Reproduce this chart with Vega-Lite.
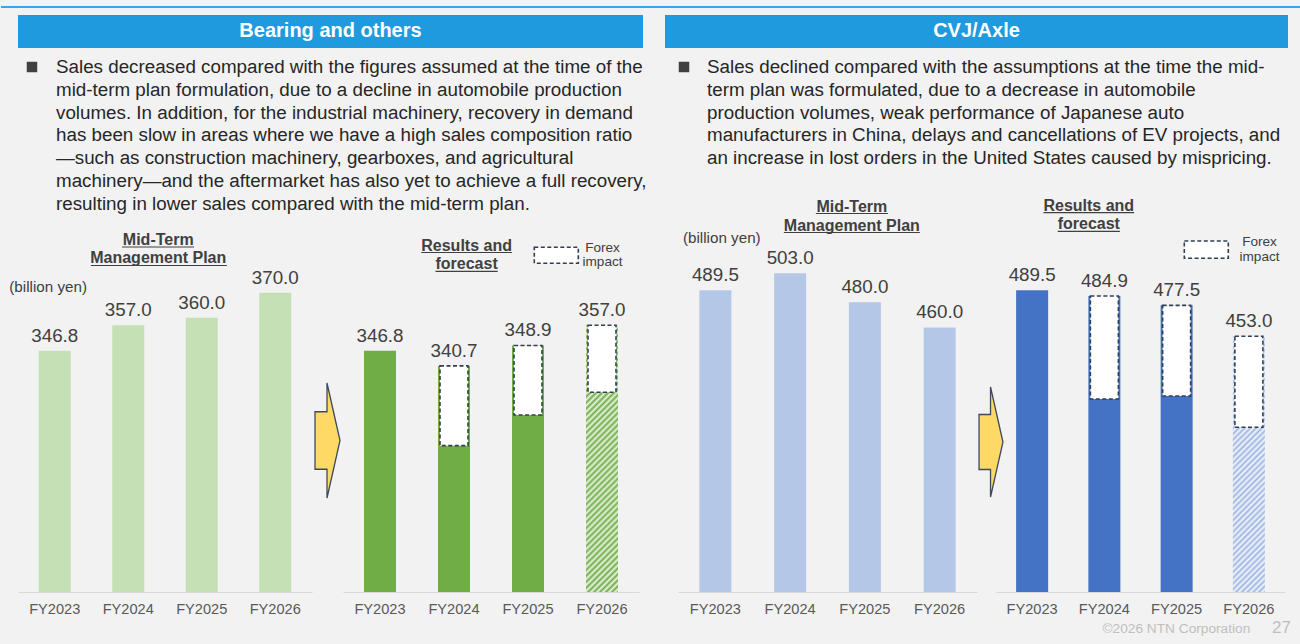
{
  "$schema": "https://vega.github.io/schema/vega-lite/v6.json",
  "background": "#f2f2f2",
  "padding": 0,
  "spacing": 0,
  "bounds": "flush",
  "config": {
    "font": "Liberation Sans",
    "view": {"stroke": null, "fill": "transparent"},
    "axisX": {"title": null, "ticks": false, "grid": false, "domainColor": "#d9d9d9", "domainWidth": 1, "labelFontSize": 14.6, "labelColor": "#595959", "labelPadding": 9, "labelAngle": 0, "labelFont": "Liberation Sans", "offset": -52}
  },
  "datasets": {
    "bearingPlan": [
      {"year": "FY2023", "value": 346.8},
      {"year": "FY2024", "value": 357.0},
      {"year": "FY2025", "value": 360.0},
      {"year": "FY2026", "value": 370.0}
    ],
    "bearingResults": [
      {"year": "FY2023", "value": 346.8, "exfx": null, "status": "actual"},
      {"year": "FY2024", "value": 340.7, "exfx": 308.7, "status": "actual"},
      {"year": "FY2025", "value": 348.9, "exfx": 321.0, "status": "actual"},
      {"year": "FY2026", "value": 357.0, "exfx": 330.1, "status": "forecast"}
    ],
    "cvjPlan": [
      {"year": "FY2023", "value": 489.5},
      {"year": "FY2024", "value": 503.0},
      {"year": "FY2025", "value": 480.0},
      {"year": "FY2026", "value": 460.0}
    ],
    "cvjResults": [
      {"year": "FY2023", "value": 489.5, "exfx": null, "status": "actual"},
      {"year": "FY2024", "value": 484.9, "exfx": 403.2, "status": "actual"},
      {"year": "FY2025", "value": 477.5, "exfx": 405.6, "status": "actual"},
      {"year": "FY2026", "value": 453.0, "exfx": 380.7, "status": "forecast"}
    ]
  },
  "hconcat": [
    {"width": 17, "height": 644, "data": {"values": [{}]}, "mark": "text", "encoding": {"text": {"value": ""}}},
    {
      "width": 294, "height": 644,
      "resolve": {"scale": {"x": "independent", "y": "independent"}},
      "layer": [
        {
          "resolve": {"scale": {"x": "independent"}},
          "layer": [
            {
              "data": {"name": "bearingPlan"},
              "encoding": {
                "x": {"field": "year", "type": "nominal", "sort": null, "scale": {"paddingInner": 0.5, "paddingOuter": 0.25}},
                "y": {"field": "value", "type": "quantitative", "scale": {"domain": [229.142, 487.465], "zero": false, "nice": false}, "axis": null}
              },
              "layer": [
                {"mark": {"type": "bar", "width": 32, "color": "#c5e0b4"}, "encoding": {"y2": {"datum": 250}}},
                {"mark": {"type": "text", "dy": -9, "baseline": "alphabetic", "fontSize": 18.8, "color": "#404040"}, "encoding": {"text": {"field": "value", "type": "quantitative", "format": ".1f"}}}
              ]
            },
            {
              "data": {"values": [{}]},
              "layer": [
                {"mark": {"type": "text", "text": "Mid-Term", "fontSize": 16, "fontWeight": "bold", "color": "#404040", "align": "center", "baseline": "alphabetic"},
                 "encoding": {"x": {"datum": 0.477, "type": "quantitative", "scale": {"domain": [0, 1]}, "axis": null}, "y": {"datum": 389.19, "type": "quantitative", "axis": null}}},
                {"mark": {"type": "text", "text": "Management Plan", "fontSize": 16, "fontWeight": "bold", "color": "#404040", "align": "center", "baseline": "alphabetic"},
                 "encoding": {"x": {"datum": 0.477, "type": "quantitative", "scale": {"domain": [0, 1]}, "axis": null}, "y": {"datum": 381.77, "type": "quantitative", "axis": null}}},
                {"mark": {"type": "rule", "color": "#404040", "strokeWidth": 1.2},
                 "encoding": {"x": {"datum": 0.3537, "type": "quantitative", "scale": {"domain": [0, 1]}, "axis": null}, "x2": {"datum": 0.5986}, "y": {"datum": 388.39, "type": "quantitative", "axis": null}}},
                {"mark": {"type": "rule", "color": "#404040", "strokeWidth": 1.2},
                 "encoding": {"x": {"datum": 0.2478, "type": "quantitative", "scale": {"domain": [0, 1]}, "axis": null}, "x2": {"datum": 0.7104}, "y": {"datum": 380.97, "type": "quantitative", "axis": null}}},
                {"mark": {"type": "text", "text": "(billion yen)", "fontSize": 15.2, "color": "#404040", "align": "left", "baseline": "alphabetic"},
                 "encoding": {"x": {"datum": -0.0296, "type": "quantitative", "scale": {"domain": [0, 1]}, "axis": null}, "y": {"datum": 370.14, "type": "quantitative", "axis": null}}}
              ]
            }
          ]
        },
        {
          "data": {"values": [{}]},
          "layer": [
            {"mark": {"type": "rule", "color": "#3ea3e3", "strokeWidth": 2},
             "encoding": {"x": {"datum": -0.0578, "type": "quantitative", "scale": {"domain": [0, 1]}, "axis": null}, "x2": {"datum": 4.3639}, "y": {"datum": 0.01087, "type": "quantitative", "scale": {"domain": [0, 1], "reverse": true}, "axis": null}}},
            {"mark": {"type": "rect", "color": "#1f9ade"},
             "encoding": {"x": {"datum": 0, "type": "quantitative", "scale": {"domain": [0, 1]}, "axis": null}, "x2": {"datum": 2.1259}, "y": {"datum": 0.02329, "type": "quantitative", "scale": {"domain": [0, 1], "reverse": true}, "axis": null}, "y2": {"datum": 0.07453}}},
            {"mark": {"type": "text", "text": "Bearing and others", "fontSize": 20, "fontWeight": "bold", "color": "#ffffff", "align": "center", "baseline": "middle"},
             "encoding": {"x": {"datum": 1.0629, "type": "quantitative", "scale": {"domain": [0, 1]}, "axis": null}, "y": {"datum": 0.04891, "type": "quantitative", "scale": {"domain": [0, 1], "reverse": true}, "axis": null}}},
            {"mark": {"type": "point", "shape": "square", "size": 110, "filled": true, "color": "#404040", "opacity": 1},
             "encoding": {"x": {"datum": 0.0476, "type": "quantitative", "scale": {"domain": [0, 1]}, "axis": null}, "y": {"datum": 0.10404, "type": "quantitative", "scale": {"domain": [0, 1], "reverse": true}, "axis": null}}},
            {"mark": {"type": "text", "align": "left", "baseline": "alphabetic", "fontSize": 18.8, "lineHeight": 22.67, "color": "#262626",
              "text": ["Sales decreased compared with the figures assumed at the time of the", "mid-term plan formulation, due to a decline in automobile production", "volumes. In addition, for the industrial machinery, recovery in demand", "has been slow in areas where we have a high sales composition ratio", "\u2014such as construction machinery, gearboxes, and agricultural", "machinery\u2014and the aftermarket has also yet to achieve a full recovery,", "resulting in lower sales compared with the mid-term plan."]},
             "encoding": {"x": {"datum": 0.12925, "type": "quantitative", "scale": {"domain": [0, 1]}, "axis": null}, "y": {"datum": 0.11413, "type": "quantitative", "scale": {"domain": [0, 1], "reverse": true}, "axis": null}}}
          ]
        }
      ]
    },
    {
      "width": 31, "height": 644,
      "data": {"values": [{}]},
      "mark": {"type": "point", "shape": "M-0.2174,-0.5L-0.0087,-0.5L-0.0087,-1L0.2174,0L-0.0087,1L-0.0087,0.5L-0.2174,0.5Z", "size": 13225, "filled": true, "fill": "#ffd966", "stroke": "#3b4a5f", "strokeWidth": 1.3, "opacity": 1},
      "encoding": {"x": {"datum": 0.5, "type": "quantitative", "scale": {"domain": [0, 1]}, "axis": null}, "y": {"datum": 0.68401, "type": "quantitative", "scale": {"domain": [0, 1], "reverse": true}, "axis": null}}
    },
    {
      "width": 296, "height": 644,
      "resolve": {"scale": {"x": "independent"}},
      "layer": [
        {
          "data": {"name": "bearingResults"},
          "encoding": {
            "x": {"field": "year", "type": "nominal", "sort": null, "scale": {"paddingInner": 0.5, "paddingOuter": 0.25}},
            "y": {"field": "value", "type": "quantitative", "scale": {"domain": [229.142, 487.465], "zero": false, "nice": false}, "axis": null}
          },
          "layer": [
            {"transform": [{"filter": "datum.status == 'actual'"}], "mark": {"type": "bar", "width": 32, "color": "#70ad47"}, "encoding": {"y2": {"datum": 250}}},
            {"transform": [{"filter": "datum.status == 'forecast'"}], "mark": {"type": "bar", "width": 32, "fill": {"gradient": "linear", "x1": 0, "y1": 0, "x2": 0.1325, "y2": 1.1041, "stops": [
              {"offset": 0, "color": "#70ad47"}, {"offset": 0.01, "color": "#e9f3e2"}, {"offset": 0.02, "color": "#70ad47"}, {"offset": 0.03, "color": "#e9f3e2"}, {"offset": 0.04, "color": "#70ad47"}, {"offset": 0.05, "color": "#e9f3e2"}, {"offset": 0.06, "color": "#70ad47"}, {"offset": 0.07, "color": "#e9f3e2"}, {"offset": 0.08, "color": "#70ad47"}, {"offset": 0.09, "color": "#e9f3e2"},
              {"offset": 0.1, "color": "#70ad47"}, {"offset": 0.11, "color": "#e9f3e2"}, {"offset": 0.12, "color": "#70ad47"}, {"offset": 0.13, "color": "#e9f3e2"}, {"offset": 0.14, "color": "#70ad47"}, {"offset": 0.15, "color": "#e9f3e2"}, {"offset": 0.16, "color": "#70ad47"}, {"offset": 0.17, "color": "#e9f3e2"}, {"offset": 0.18, "color": "#70ad47"}, {"offset": 0.19, "color": "#e9f3e2"},
              {"offset": 0.2, "color": "#70ad47"}, {"offset": 0.21, "color": "#e9f3e2"}, {"offset": 0.22, "color": "#70ad47"}, {"offset": 0.23, "color": "#e9f3e2"}, {"offset": 0.24, "color": "#70ad47"}, {"offset": 0.25, "color": "#e9f3e2"}, {"offset": 0.26, "color": "#70ad47"}, {"offset": 0.27, "color": "#e9f3e2"}, {"offset": 0.28, "color": "#70ad47"}, {"offset": 0.29, "color": "#e9f3e2"},
              {"offset": 0.3, "color": "#70ad47"}, {"offset": 0.31, "color": "#e9f3e2"}, {"offset": 0.32, "color": "#70ad47"}, {"offset": 0.33, "color": "#e9f3e2"}, {"offset": 0.34, "color": "#70ad47"}, {"offset": 0.35, "color": "#e9f3e2"}, {"offset": 0.36, "color": "#70ad47"}, {"offset": 0.37, "color": "#e9f3e2"}, {"offset": 0.38, "color": "#70ad47"}, {"offset": 0.39, "color": "#e9f3e2"},
              {"offset": 0.4, "color": "#70ad47"}, {"offset": 0.41, "color": "#e9f3e2"}, {"offset": 0.42, "color": "#70ad47"}, {"offset": 0.43, "color": "#e9f3e2"}, {"offset": 0.44, "color": "#70ad47"}, {"offset": 0.45, "color": "#e9f3e2"}, {"offset": 0.46, "color": "#70ad47"}, {"offset": 0.47, "color": "#e9f3e2"}, {"offset": 0.48, "color": "#70ad47"}, {"offset": 0.49, "color": "#e9f3e2"},
              {"offset": 0.5, "color": "#70ad47"}, {"offset": 0.51, "color": "#e9f3e2"}, {"offset": 0.52, "color": "#70ad47"}, {"offset": 0.53, "color": "#e9f3e2"}, {"offset": 0.54, "color": "#70ad47"}, {"offset": 0.55, "color": "#e9f3e2"}, {"offset": 0.56, "color": "#70ad47"}, {"offset": 0.57, "color": "#e9f3e2"}, {"offset": 0.58, "color": "#70ad47"}, {"offset": 0.59, "color": "#e9f3e2"},
              {"offset": 0.6, "color": "#70ad47"}, {"offset": 0.61, "color": "#e9f3e2"}, {"offset": 0.62, "color": "#70ad47"}, {"offset": 0.63, "color": "#e9f3e2"}, {"offset": 0.64, "color": "#70ad47"}, {"offset": 0.65, "color": "#e9f3e2"}, {"offset": 0.66, "color": "#70ad47"}, {"offset": 0.67, "color": "#e9f3e2"}, {"offset": 0.68, "color": "#70ad47"}, {"offset": 0.69, "color": "#e9f3e2"},
              {"offset": 0.7, "color": "#70ad47"}, {"offset": 0.71, "color": "#e9f3e2"}, {"offset": 0.72, "color": "#70ad47"}, {"offset": 0.73, "color": "#e9f3e2"}, {"offset": 0.74, "color": "#70ad47"}, {"offset": 0.75, "color": "#e9f3e2"}, {"offset": 0.76, "color": "#70ad47"}, {"offset": 0.77, "color": "#e9f3e2"}, {"offset": 0.78, "color": "#70ad47"}, {"offset": 0.79, "color": "#e9f3e2"},
              {"offset": 0.8, "color": "#70ad47"}, {"offset": 0.81, "color": "#e9f3e2"}, {"offset": 0.82, "color": "#70ad47"}, {"offset": 0.83, "color": "#e9f3e2"}, {"offset": 0.84, "color": "#70ad47"}, {"offset": 0.85, "color": "#e9f3e2"}, {"offset": 0.86, "color": "#70ad47"}, {"offset": 0.87, "color": "#e9f3e2"}, {"offset": 0.88, "color": "#70ad47"}, {"offset": 0.89, "color": "#e9f3e2"},
              {"offset": 0.9, "color": "#70ad47"}, {"offset": 0.91, "color": "#e9f3e2"}, {"offset": 0.92, "color": "#70ad47"}, {"offset": 0.93, "color": "#e9f3e2"}, {"offset": 0.94, "color": "#70ad47"}, {"offset": 0.95, "color": "#e9f3e2"}, {"offset": 0.96, "color": "#70ad47"}, {"offset": 0.97, "color": "#e9f3e2"}, {"offset": 0.98, "color": "#70ad47"}, {"offset": 0.99, "color": "#e9f3e2"}, {"offset": 1, "color": "#70ad47"}
            ]}}, "encoding": {"y2": {"datum": 250}}},
            {"transform": [{"filter": "isValid(datum.exfx)"}], "mark": {"type": "bar", "width": 28, "fill": "#ffffff", "stroke": "#333f50", "strokeWidth": 1.6, "strokeDash": [4, 2.5]}, "encoding": {"y2": {"field": "exfx"}}},
            {"mark": {"type": "text", "dy": -9, "baseline": "alphabetic", "fontSize": 18.8, "color": "#404040"}, "encoding": {"text": {"field": "value", "type": "quantitative", "format": ".1f"}}}
          ]
        },
        {
          "data": {"values": [{}]},
          "layer": [
            {"mark": {"type": "text", "text": "Results and", "fontSize": 16, "fontWeight": "bold", "color": "#404040", "align": "center", "baseline": "alphabetic"},
             "encoding": {"x": {"datum": 0.4176, "type": "quantitative", "scale": {"domain": [0, 1]}, "axis": null}, "y": {"datum": 386.98, "type": "quantitative", "axis": null}}},
            {"mark": {"type": "text", "text": "forecast", "fontSize": 16, "fontWeight": "bold", "color": "#404040", "align": "center", "baseline": "alphabetic"},
             "encoding": {"x": {"datum": 0.4176, "type": "quantitative", "scale": {"domain": [0, 1]}, "axis": null}, "y": {"datum": 379.44, "type": "quantitative", "axis": null}}},
            {"mark": {"type": "rule", "color": "#404040", "strokeWidth": 1.2},
             "encoding": {"x": {"datum": 0.2644, "type": "quantitative", "scale": {"domain": [0, 1]}, "axis": null}, "x2": {"datum": 0.5708}, "y": {"datum": 386.18, "type": "quantitative", "axis": null}}},
            {"mark": {"type": "rule", "color": "#404040", "strokeWidth": 1.2},
             "encoding": {"x": {"datum": 0.3125, "type": "quantitative", "scale": {"domain": [0, 1]}, "axis": null}, "x2": {"datum": 0.5226}, "y": {"datum": 378.64, "type": "quantitative", "axis": null}}},
            {"mark": {"type": "rect", "fill": "#ffffff", "stroke": "#333f50", "strokeWidth": 1.6, "strokeDash": [4, 2.5]},
             "encoding": {"x": {"datum": 0.6463, "type": "quantitative", "scale": {"domain": [0, 1]}, "axis": null}, "x2": {"datum": 0.7949}, "y": {"datum": 388.27, "type": "quantitative", "axis": null}, "y2": {"datum": 381.85}}},
            {"mark": {"type": "text", "text": "Forex", "fontSize": 13.6, "color": "#404040", "align": "center", "baseline": "alphabetic"},
             "encoding": {"x": {"datum": 0.8767, "type": "quantitative", "scale": {"domain": [0, 1]}, "axis": null}, "y": {"datum": 386.38, "type": "quantitative", "axis": null}}},
            {"mark": {"type": "text", "text": "impact", "fontSize": 13.6, "color": "#404040", "align": "center", "baseline": "alphabetic"},
             "encoding": {"x": {"datum": 0.8767, "type": "quantitative", "scale": {"domain": [0, 1]}, "axis": null}, "y": {"datum": 380.57, "type": "quantitative", "axis": null}}}
          ]
        }
      ]
    },
    {"width": 39, "height": 644, "data": {"values": [{}]}, "mark": "text", "encoding": {"text": {"value": ""}}},
    {
      "width": 299, "height": 644,
      "resolve": {"scale": {"x": "independent", "y": "independent"}},
      "layer": [
        {
          "resolve": {"scale": {"x": "independent"}},
          "layer": [
            {
              "data": {"name": "cvjPlan"},
              "encoding": {
                "x": {"field": "year", "type": "nominal", "sort": null, "scale": {"paddingInner": 0.5, "paddingOuter": 0.25}},
                "y": {"field": "value", "type": "quantitative", "scale": {"domain": [208.73, 719.84], "zero": false, "nice": false}, "axis": null}
              },
              "layer": [
                {"mark": {"type": "bar", "width": 32, "color": "#b4c7e7"}, "encoding": {"y2": {"datum": 250}}},
                {"mark": {"type": "text", "dy": -9, "baseline": "alphabetic", "fontSize": 18.8, "color": "#404040"}, "encoding": {"text": {"field": "value", "type": "quantitative", "format": ".1f"}}}
              ]
            },
            {
              "data": {"values": [{}]},
              "layer": [
                {"mark": {"type": "text", "text": "Mid-Term", "fontSize": 16, "fontWeight": "bold", "color": "#404040", "align": "center", "baseline": "alphabetic"},
                 "encoding": {"x": {"datum": 0.5814, "type": "quantitative", "scale": {"domain": [0, 1]}, "axis": null}, "y": {"datum": 551.98, "type": "quantitative", "axis": null}}},
                {"mark": {"type": "text", "text": "Management Plan", "fontSize": 16, "fontWeight": "bold", "color": "#404040", "align": "center", "baseline": "alphabetic"},
                 "encoding": {"x": {"datum": 0.5814, "type": "quantitative", "scale": {"domain": [0, 1]}, "axis": null}, "y": {"datum": 536.9, "type": "quantitative", "axis": null}}},
                {"mark": {"type": "rule", "color": "#404040", "strokeWidth": 1.2},
                 "encoding": {"x": {"datum": 0.4611, "type": "quantitative", "scale": {"domain": [0, 1]}, "axis": null}, "x2": {"datum": 0.7019}, "y": {"datum": 550.4, "type": "quantitative", "axis": null}}},
                {"mark": {"type": "rule", "color": "#404040", "strokeWidth": 1.2},
                 "encoding": {"x": {"datum": 0.354, "type": "quantitative", "scale": {"domain": [0, 1]}, "axis": null}, "x2": {"datum": 0.8089}, "y": {"datum": 535.3, "type": "quantitative", "axis": null}}},
                {"mark": {"type": "text", "text": "(billion yen)", "fontSize": 15.2, "color": "#404040", "align": "left", "baseline": "alphabetic"},
                 "encoding": {"x": {"datum": 0.0167, "type": "quantitative", "scale": {"domain": [0, 1]}, "axis": null}, "y": {"datum": 526.59, "type": "quantitative", "axis": null}}}
              ]
            }
          ]
        },
        {
          "data": {"values": [{}]},
          "layer": [
            {"mark": {"type": "rect", "color": "#1f9ade"},
             "encoding": {"x": {"datum": -0.04348, "type": "quantitative", "scale": {"domain": [0, 1]}, "axis": null}, "x2": {"datum": 2.0401}, "y": {"datum": 0.02329, "type": "quantitative", "scale": {"domain": [0, 1], "reverse": true}, "axis": null}, "y2": {"datum": 0.07453}}},
            {"mark": {"type": "text", "text": "CVJ/Axle", "fontSize": 20, "fontWeight": "bold", "color": "#ffffff", "align": "center", "baseline": "middle"},
             "encoding": {"x": {"datum": 0.99833, "type": "quantitative", "scale": {"domain": [0, 1]}, "axis": null}, "y": {"datum": 0.04891, "type": "quantitative", "scale": {"domain": [0, 1], "reverse": true}, "axis": null}}},
            {"mark": {"type": "point", "shape": "square", "size": 110, "filled": true, "color": "#404040", "opacity": 1},
             "encoding": {"x": {"datum": 0.02007, "type": "quantitative", "scale": {"domain": [0, 1]}, "axis": null}, "y": {"datum": 0.10404, "type": "quantitative", "scale": {"domain": [0, 1], "reverse": true}, "axis": null}}},
            {"mark": {"type": "text", "align": "left", "baseline": "alphabetic", "fontSize": 18.8, "lineHeight": 22.67, "color": "#262626",
              "text": ["Sales declined compared with the assumptions at the time the mid-", "term plan was formulated, due to a decrease in automobile", "production volumes, weak performance of Japanese auto", "manufacturers in China, delays and cancellations of EV projects, and", "an increase in lost orders in the United States caused by mispricing."]},
             "encoding": {"x": {"datum": 0.09699, "type": "quantitative", "scale": {"domain": [0, 1]}, "axis": null}, "y": {"datum": 0.11413, "type": "quantitative", "scale": {"domain": [0, 1], "reverse": true}, "axis": null}}}
          ]
        }
      ]
    },
    {
      "width": 19, "height": 644,
      "data": {"values": [{}]},
      "mark": {"type": "point", "shape": "M-0.2174,-0.5L-0.0087,-0.5L-0.0087,-1L0.2174,0L-0.0087,1L-0.0087,0.5L-0.2174,0.5Z", "size": 12100, "filled": true, "fill": "#ffd966", "stroke": "#3b4a5f", "strokeWidth": 1.3, "opacity": 1},
      "encoding": {"x": {"datum": 0.7368, "type": "quantitative", "scale": {"domain": [0, 1]}, "axis": null}, "y": {"datum": 0.68634, "type": "quantitative", "scale": {"domain": [0, 1], "reverse": true}, "axis": null}}
    },
    {
      "width": 289, "height": 644,
      "resolve": {"scale": {"x": "independent", "y": "independent"}},
      "layer": [
        {
          "resolve": {"scale": {"x": "independent"}},
          "layer": [
            {
              "data": {"name": "cvjResults"},
              "encoding": {
                "x": {"field": "year", "type": "nominal", "sort": null, "scale": {"paddingInner": 0.5, "paddingOuter": 0.25}},
                "y": {"field": "value", "type": "quantitative", "scale": {"domain": [208.73, 719.84], "zero": false, "nice": false}, "axis": null}
              },
              "layer": [
                {"transform": [{"filter": "datum.status == 'actual'"}], "mark": {"type": "bar", "width": 32, "color": "#4472c4"}, "encoding": {"y2": {"datum": 250}}},
                {"transform": [{"filter": "datum.status == 'forecast'"}], "mark": {"type": "bar", "width": 32, "fill": {"gradient": "linear", "x1": 0, "y1": 0, "x2": 0.1386, "y2": 1.1078, "stops": [
                  {"offset": 0, "color": "#9fb5e1"}, {"offset": 0.01, "color": "#f3f6fc"}, {"offset": 0.02, "color": "#9fb5e1"}, {"offset": 0.03, "color": "#f3f6fc"}, {"offset": 0.04, "color": "#9fb5e1"}, {"offset": 0.05, "color": "#f3f6fc"}, {"offset": 0.06, "color": "#9fb5e1"}, {"offset": 0.07, "color": "#f3f6fc"}, {"offset": 0.08, "color": "#9fb5e1"}, {"offset": 0.09, "color": "#f3f6fc"},
                  {"offset": 0.1, "color": "#9fb5e1"}, {"offset": 0.11, "color": "#f3f6fc"}, {"offset": 0.12, "color": "#9fb5e1"}, {"offset": 0.13, "color": "#f3f6fc"}, {"offset": 0.14, "color": "#9fb5e1"}, {"offset": 0.15, "color": "#f3f6fc"}, {"offset": 0.16, "color": "#9fb5e1"}, {"offset": 0.17, "color": "#f3f6fc"}, {"offset": 0.18, "color": "#9fb5e1"}, {"offset": 0.19, "color": "#f3f6fc"},
                  {"offset": 0.2, "color": "#9fb5e1"}, {"offset": 0.21, "color": "#f3f6fc"}, {"offset": 0.22, "color": "#9fb5e1"}, {"offset": 0.23, "color": "#f3f6fc"}, {"offset": 0.24, "color": "#9fb5e1"}, {"offset": 0.25, "color": "#f3f6fc"}, {"offset": 0.26, "color": "#9fb5e1"}, {"offset": 0.27, "color": "#f3f6fc"}, {"offset": 0.28, "color": "#9fb5e1"}, {"offset": 0.29, "color": "#f3f6fc"},
                  {"offset": 0.3, "color": "#9fb5e1"}, {"offset": 0.31, "color": "#f3f6fc"}, {"offset": 0.32, "color": "#9fb5e1"}, {"offset": 0.33, "color": "#f3f6fc"}, {"offset": 0.34, "color": "#9fb5e1"}, {"offset": 0.35, "color": "#f3f6fc"}, {"offset": 0.36, "color": "#9fb5e1"}, {"offset": 0.37, "color": "#f3f6fc"}, {"offset": 0.38, "color": "#9fb5e1"}, {"offset": 0.39, "color": "#f3f6fc"},
                  {"offset": 0.4, "color": "#9fb5e1"}, {"offset": 0.41, "color": "#f3f6fc"}, {"offset": 0.42, "color": "#9fb5e1"}, {"offset": 0.43, "color": "#f3f6fc"}, {"offset": 0.44, "color": "#9fb5e1"}, {"offset": 0.45, "color": "#f3f6fc"}, {"offset": 0.46, "color": "#9fb5e1"}, {"offset": 0.47, "color": "#f3f6fc"}, {"offset": 0.48, "color": "#9fb5e1"}, {"offset": 0.49, "color": "#f3f6fc"},
                  {"offset": 0.5, "color": "#9fb5e1"}, {"offset": 0.51, "color": "#f3f6fc"}, {"offset": 0.52, "color": "#9fb5e1"}, {"offset": 0.53, "color": "#f3f6fc"}, {"offset": 0.54, "color": "#9fb5e1"}, {"offset": 0.55, "color": "#f3f6fc"}, {"offset": 0.56, "color": "#9fb5e1"}, {"offset": 0.57, "color": "#f3f6fc"}, {"offset": 0.58, "color": "#9fb5e1"}, {"offset": 0.59, "color": "#f3f6fc"},
                  {"offset": 0.6, "color": "#9fb5e1"}, {"offset": 0.61, "color": "#f3f6fc"}, {"offset": 0.62, "color": "#9fb5e1"}, {"offset": 0.63, "color": "#f3f6fc"}, {"offset": 0.64, "color": "#9fb5e1"}, {"offset": 0.65, "color": "#f3f6fc"}, {"offset": 0.66, "color": "#9fb5e1"}, {"offset": 0.67, "color": "#f3f6fc"}, {"offset": 0.68, "color": "#9fb5e1"}, {"offset": 0.69, "color": "#f3f6fc"},
                  {"offset": 0.7, "color": "#9fb5e1"}, {"offset": 0.71, "color": "#f3f6fc"}, {"offset": 0.72, "color": "#9fb5e1"}, {"offset": 0.73, "color": "#f3f6fc"}, {"offset": 0.74, "color": "#9fb5e1"}, {"offset": 0.75, "color": "#f3f6fc"}, {"offset": 0.76, "color": "#9fb5e1"}, {"offset": 0.77, "color": "#f3f6fc"}, {"offset": 0.78, "color": "#9fb5e1"}, {"offset": 0.79, "color": "#f3f6fc"},
                  {"offset": 0.8, "color": "#9fb5e1"}, {"offset": 0.81, "color": "#f3f6fc"}, {"offset": 0.82, "color": "#9fb5e1"}, {"offset": 0.83, "color": "#f3f6fc"}, {"offset": 0.84, "color": "#9fb5e1"}, {"offset": 0.85, "color": "#f3f6fc"}, {"offset": 0.86, "color": "#9fb5e1"}, {"offset": 0.87, "color": "#f3f6fc"}, {"offset": 0.88, "color": "#9fb5e1"}, {"offset": 0.89, "color": "#f3f6fc"},
                  {"offset": 0.9, "color": "#9fb5e1"}, {"offset": 0.91, "color": "#f3f6fc"}, {"offset": 0.92, "color": "#9fb5e1"}, {"offset": 0.93, "color": "#f3f6fc"}, {"offset": 0.94, "color": "#9fb5e1"}, {"offset": 0.95, "color": "#f3f6fc"}, {"offset": 0.96, "color": "#9fb5e1"}, {"offset": 0.97, "color": "#f3f6fc"}, {"offset": 0.98, "color": "#9fb5e1"}, {"offset": 0.99, "color": "#f3f6fc"}, {"offset": 1, "color": "#9fb5e1"}
                ]}}, "encoding": {"y2": {"datum": 250}}},
                {"transform": [{"filter": "isValid(datum.exfx)"}], "mark": {"type": "bar", "width": 28, "fill": "#ffffff", "stroke": "#333f50", "strokeWidth": 1.6, "strokeDash": [4, 2.5]}, "encoding": {"y2": {"field": "exfx"}}},
                {"mark": {"type": "text", "dy": -9, "baseline": "alphabetic", "fontSize": 18.8, "color": "#404040"}, "encoding": {"text": {"field": "value", "type": "quantitative", "format": ".1f"}}}
              ]
            },
            {
              "data": {"values": [{}]},
              "layer": [
                {"mark": {"type": "text", "text": "Results and", "fontSize": 16, "fontWeight": "bold", "color": "#404040", "align": "center", "baseline": "alphabetic"},
                 "encoding": {"x": {"datum": 0.3211, "type": "quantitative", "scale": {"domain": [0, 1]}, "axis": null}, "y": {"datum": 552.62, "type": "quantitative", "axis": null}}},
                {"mark": {"type": "text", "text": "forecast", "fontSize": 16, "fontWeight": "bold", "color": "#404040", "align": "center", "baseline": "alphabetic"},
                 "encoding": {"x": {"datum": 0.3211, "type": "quantitative", "scale": {"domain": [0, 1]}, "axis": null}, "y": {"datum": 537.86, "type": "quantitative", "axis": null}}},
                {"mark": {"type": "rule", "color": "#404040", "strokeWidth": 1.2},
                 "encoding": {"x": {"datum": 0.1642, "type": "quantitative", "scale": {"domain": [0, 1]}, "axis": null}, "x2": {"datum": 0.478}, "y": {"datum": 551.03, "type": "quantitative", "axis": null}}},
                {"mark": {"type": "rule", "color": "#404040", "strokeWidth": 1.2},
                 "encoding": {"x": {"datum": 0.2135, "type": "quantitative", "scale": {"domain": [0, 1]}, "axis": null}, "x2": {"datum": 0.4287}, "y": {"datum": 536.27, "type": "quantitative", "axis": null}}},
                {"mark": {"type": "rect", "fill": "#ffffff", "stroke": "#333f50", "strokeWidth": 1.6, "strokeDash": [4, 2.5]},
                 "encoding": {"x": {"datum": 0.6516, "type": "quantitative", "scale": {"domain": [0, 1]}, "axis": null}, "x2": {"datum": 0.8038}, "y": {"datum": 528.57, "type": "quantitative", "axis": null}, "y2": {"datum": 514.84}}},
                {"mark": {"type": "text", "text": "Forex", "fontSize": 13.6, "color": "#404040", "align": "center", "baseline": "alphabetic"},
                 "encoding": {"x": {"datum": 0.9118, "type": "quantitative", "scale": {"domain": [0, 1]}, "axis": null}, "y": {"datum": 524.6, "type": "quantitative", "axis": null}}},
                {"mark": {"type": "text", "text": "impact", "fontSize": 13.6, "color": "#404040", "align": "center", "baseline": "alphabetic"},
                 "encoding": {"x": {"datum": 0.9118, "type": "quantitative", "scale": {"domain": [0, 1]}, "axis": null}, "y": {"datum": 512.94, "type": "quantitative", "axis": null}}}
              ]
            }
          ]
        },
        {
          "data": {"values": [{}]},
          "layer": [
            {"mark": {"type": "text", "text": "\u00a92026 NTN Corporation", "fontSize": 13.7, "color": "#bfbfbf", "align": "right", "baseline": "alphabetic"},
             "encoding": {"x": {"datum": 0.87993, "type": "quantitative", "scale": {"domain": [0, 1]}, "axis": null}, "y": {"datum": 0.98292, "type": "quantitative", "scale": {"domain": [0, 1], "reverse": true}, "axis": null}}},
            {"mark": {"type": "text", "text": "27", "fontSize": 17, "color": "#bfbfbf", "align": "right", "baseline": "alphabetic"},
             "encoding": {"x": {"datum": 1.02076, "type": "quantitative", "scale": {"domain": [0, 1]}, "axis": null}, "y": {"datum": 0.98339, "type": "quantitative", "scale": {"domain": [0, 1], "reverse": true}, "axis": null}}}
          ]
        }
      ]
    },
    {"width": 16, "height": 644, "data": {"values": [{}]}, "mark": "text", "encoding": {"text": {"value": ""}}}
  ]
}
